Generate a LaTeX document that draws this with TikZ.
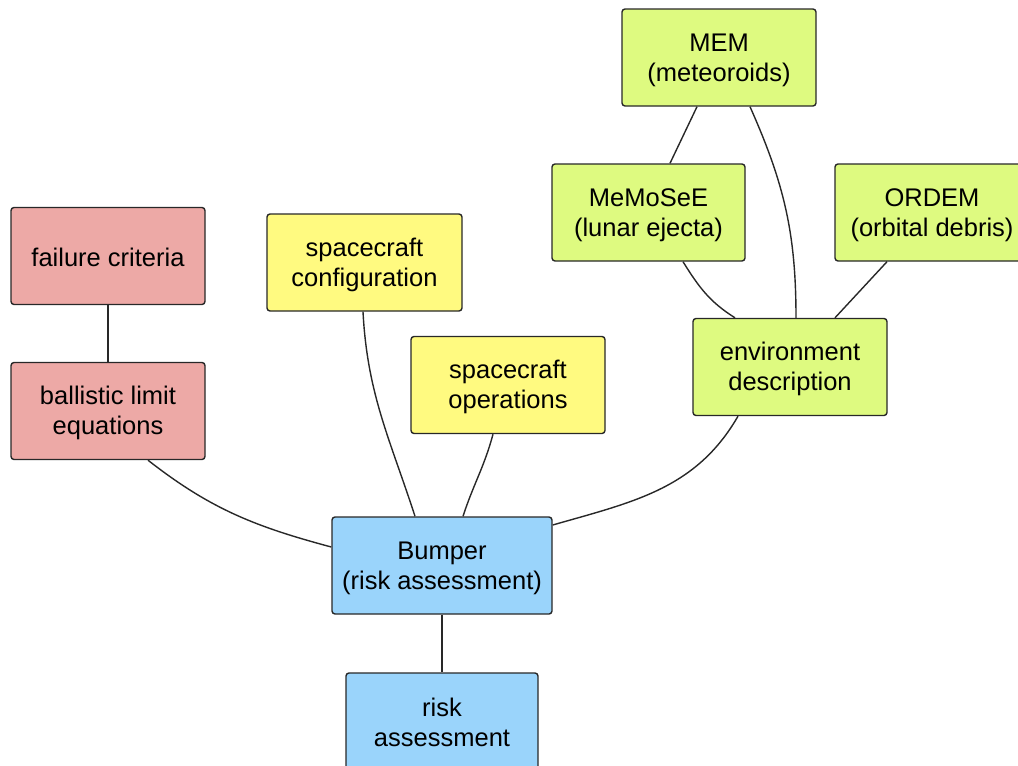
\documentclass[tikz,border=0pt]{standalone}
\usepackage{fontspec}
\setmainfont{Liberation Sans}
\definecolor{cred}{RGB}{237,169,166}
\definecolor{cyel}{RGB}{255,250,128}
\definecolor{cgrn}{RGB}{222,250,128}
\definecolor{cblu}{RGB}{154,212,251}
\definecolor{cline}{RGB}{40,40,40}
\newcommand\mystrut{\vrule height 23pt depth 3pt width 0pt}
\begin{document}
\begin{tikzpicture}[x=1pt,y=-1pt,
  box/.style={draw=cline, line width=1.4pt, rounded corners=3pt, minimum height=97pt,
    minimum width=194pt, align=center, inner sep=0pt,
    font=\fontsize{25.5}{30}\selectfont},
  conn/.style={draw=cline, line width=1.4pt}]
\useasboundingbox (0,0) rectangle (1018,766);
\clip (0,0) rectangle (1018,766);
\node[box, fill=cred] (fail) at (108,256) {\mystrut failure criteria\mystrut};
\node[box, fill=cred] (ball) at (108,411) {\mystrut ballistic limit\\equations\mystrut};
\node[box, fill=cyel, minimum width=195pt] (conf) at (364.5,262.5) {\mystrut spacecraft\\configuration\mystrut};
\node[box, fill=cyel] (ops) at (508,385) {\mystrut spacecraft\\operations\mystrut};
\node[box, fill=cgrn] (mem) at (719,57.5) {\mystrut MEM\\(meteoroids)\mystrut};
\node[box, fill=cgrn, minimum width=193pt] (memo) at (648.5,212.5) {\mystrut MeMoSeE\\(lunar ejecta)\mystrut};
\node[box, fill=cgrn] (ordem) at (932,212.5) {\mystrut ORDEM\\(orbital debris)\mystrut};
\node[box, fill=cgrn] (env) at (790,367) {\mystrut environment\\description\mystrut};
\node[box, fill=cblu, minimum width=220pt] (bump) at (442,565.5) {\mystrut Bumper\\(risk assessment)\mystrut};
\node[box, fill=cblu, minimum width=192pt] (risk) at (442,721.5) {\mystrut risk\\assessment\mystrut};

\draw[conn] (fail.south) -- (ball.north);
\draw[conn] ([xshift=40pt]ball.south) to[out=-38,in=165] ([yshift=18.5pt]bump.west);
\draw[conn] ([xshift=-1.5pt]conf.south) to[out=-87,in=108] ([xshift=-27pt]bump.north);
\draw[conn] ([xshift=-15pt]ops.south) to[out=-105,in=72] ([xshift=21pt]bump.north);
\draw[conn] ([xshift=-52pt]env.south) to[out=-120,in=16] ([yshift=40.5pt]bump.east);
\draw[conn] ([xshift=-22pt]mem.south) -- ([xshift=21.5pt]memo.north);
\draw[conn] ([xshift=31pt]mem.south) to[out=-66,in=90] ([xshift=6pt]env.north);
\draw[conn] ([xshift=34.5pt]memo.south) to[out=-58,in=148] ([xshift=-55pt]env.north);
\draw[conn] ([xshift=-45pt]ordem.south) -- ([xshift=45pt]env.north);
\draw[conn] (bump.south) -- (risk.north);
\end{tikzpicture}
\end{document}
